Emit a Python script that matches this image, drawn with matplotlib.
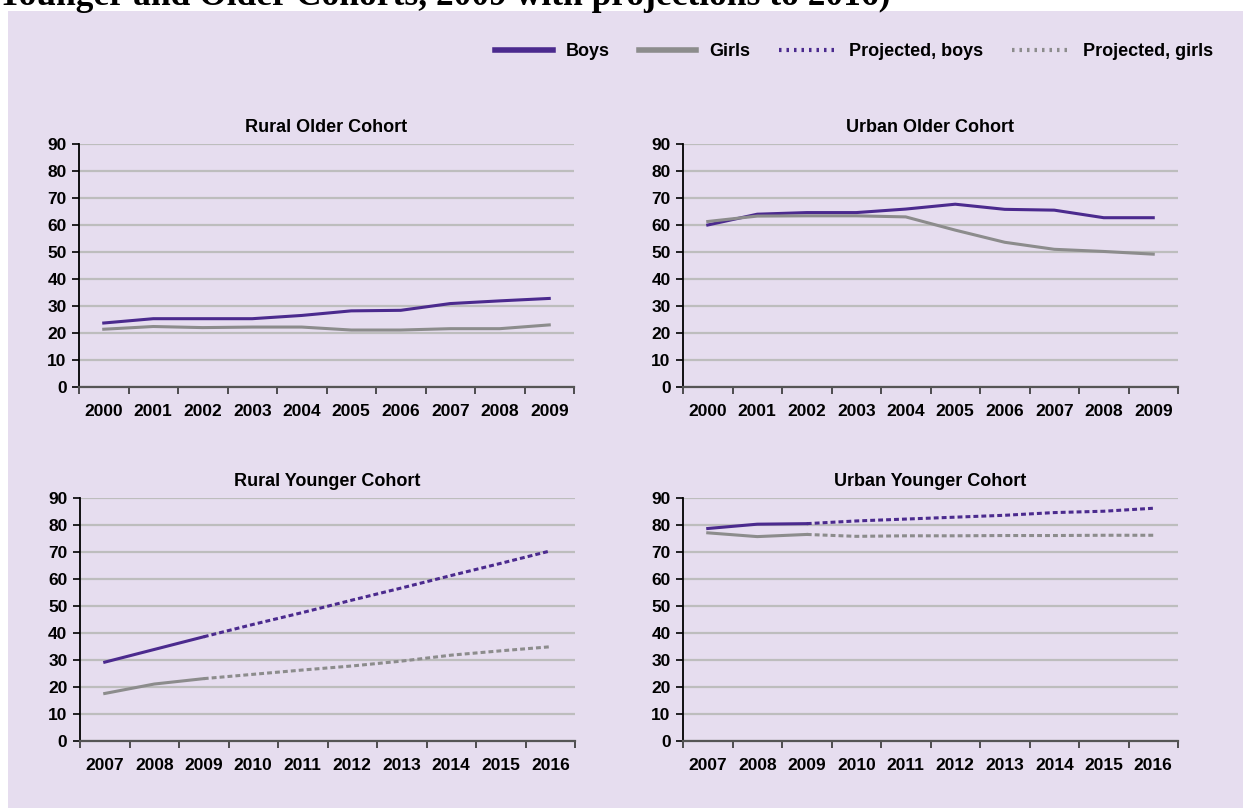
import matplotlib
matplotlib.use('Agg')
import matplotlib.pyplot as plt
from matplotlib.patches import Rectangle
from matplotlib.lines import Line2D

plt.rcParams['font.family'] = ['Liberation Sans', 'DejaVu Sans']
plt.rcParams['font.weight'] = 'bold'

# data
older_years = ['2000', '2001', '2002', '2003', '2004', '2005', '2006', '2007', '2008', '2009']
younger_years = ['2007', '2008', '2009', '2010', '2011', '2012', '2013', '2014', '2015', '2016']

rural_older_boys = [23.7, 25.3, 25.3, 25.3, 26.5, 28.2, 28.4, 30.9, 31.9, 32.8]
rural_older_girls = [21.4, 22.4, 22.0, 22.2, 22.2, 21.1, 21.1, 21.6, 21.6, 23.0]

urban_older_boys = [60.0, 64.0, 64.6, 64.6, 65.9, 67.7, 65.8, 65.5, 62.7, 62.7]
urban_older_girls = [61.3, 63.3, 63.4, 63.4, 63.0, 58.1, 53.6, 51.0, 50.2, 49.2]

rural_younger_boys = [29.2, 33.9, 38.6]
rural_younger_girls = [17.6, 21.1, 23.1]
rural_younger_boys_proj = [38.6, 43.2, 47.6, 52.2, 56.7, 61.3, 65.8, 70.4]
rural_younger_girls_proj = [23.1, 24.7, 26.3, 27.8, 29.6, 31.8, 33.4, 34.9]

urban_younger_boys = [78.7, 80.3, 80.5]
urban_younger_girls = [77.1, 75.7, 76.5]
urban_younger_boys_proj = [80.5, 81.5, 82.2, 82.9, 83.6, 84.6, 85.1, 86.2]
urban_younger_girls_proj = [76.5, 75.8, 76.0, 76.0, 76.1, 76.1, 76.2, 76.2]

purple = '#4B2A8E'
grey = '#8C8C8C'
bg = '#E6DDEF'
grid = '#BDBDBD'

fig = plt.figure(figsize=(12.43, 8.08), dpi=100)
W, H = 1243, 808

fig.patches.append(Rectangle((8 / W, 0), 1 - 8 / W, 1 - 11 / H, transform=fig.transFigure,
                             facecolor=bg, edgecolor='none', zorder=-10))

# heading of the page, cut off at the top as in the source
fig.text(-3 / W, 1 - 5 / H, 'Younger and Older Cohorts, 2009 with projections to 2016)',
         family='Liberation Serif', weight='bold', fontsize=25.5, va='baseline', ha='left')


def make_ax(left, top, right, bottom):
    return fig.add_axes([left / W, 1 - bottom / H, (right - left) / W, (bottom - top) / H])


def style(ax, labels, title):
    ax.set_facecolor('none')
    ax.set_xlim(-0.5, 9.5)
    ax.set_ylim(0, 90)
    ax.set_yticks(range(0, 91, 10))
    ax.yaxis.grid(True, color=grid, linewidth=1.6)
    ax.set_axisbelow(True)
    ax.set_xticks([i - 0.5 for i in range(11)])
    ax.set_xticklabels([])
    ax.set_xticks(range(10), minor=True)
    ax.set_xticklabels(labels, minor=True)
    ax.tick_params(axis='x', which='minor', length=0, pad=12, labelsize=12.5)
    ax.tick_params(axis='x', which='major', length=5, width=1.2, color='#333333')
    ax.tick_params(axis='y', length=5, width=1.2, labelsize=12.5, pad=4)
    for s in ['top', 'right']:
        ax.spines[s].set_visible(False)
    ax.spines['left'].set_color('black')
    ax.spines['left'].set_linewidth(1.3)
    ax.spines['bottom'].set_color('#555555')
    ax.spines['bottom'].set_linewidth(1.6)
    ax.set_title(title, fontsize=13, fontweight='bold', pad=9)


lw = 2.2
dots = (0, (1.6, 1.0))

ax1 = make_ax(79, 144, 574, 387)
ax1.plot(range(10), rural_older_boys, color=purple, lw=lw)
ax1.plot(range(10), rural_older_girls, color=grey, lw=lw)
style(ax1, older_years, 'Rural Older Cohort')

ax2 = make_ax(683, 144, 1178, 387)
ax2.plot(range(10), urban_older_boys, color=purple, lw=lw)
ax2.plot(range(10), urban_older_girls, color=grey, lw=lw)
style(ax2, older_years, 'Urban Older Cohort')

ax3 = make_ax(80, 498, 575, 741)
ax3.plot(range(3), rural_younger_boys, color=purple, lw=lw)
ax3.plot(range(3), rural_younger_girls, color=grey, lw=lw)
ax3.plot(range(2, 10), rural_younger_boys_proj, color=purple, lw=lw, linestyle=dots)
ax3.plot(range(2, 10), rural_younger_girls_proj, color=grey, lw=lw, linestyle=dots)
style(ax3, younger_years, 'Rural Younger Cohort')

ax4 = make_ax(683, 498, 1178, 741)
ax4.plot(range(3), urban_younger_boys, color=purple, lw=lw)
ax4.plot(range(3), urban_younger_girls, color=grey, lw=lw)
ax4.plot(range(2, 10), urban_younger_boys_proj, color=purple, lw=lw, linestyle=dots)
ax4.plot(range(2, 10), urban_younger_girls_proj, color=grey, lw=lw, linestyle=dots)
style(ax4, younger_years, 'Urban Younger Cohort')

handles = [Line2D([], [], color=purple, lw=4),
           Line2D([], [], color=grey, lw=4),
           Line2D([], [], color=purple, lw=3, linestyle=(0, (0.6, 1.2))),
           Line2D([], [], color=grey, lw=3, linestyle=(0, (0.6, 1.2)))]
fig.legend(handles, ['Boys', 'Girls', 'Projected, boys', 'Projected, girls'],
           loc='center right', bbox_to_anchor=(1220 / W, 1 - 52 / H), ncol=4,
           frameon=False, fontsize=13, handlelength=3.2, columnspacing=1.6,
           handletextpad=0.7, borderaxespad=0)

fig.savefig('out.png', dpi=100)
